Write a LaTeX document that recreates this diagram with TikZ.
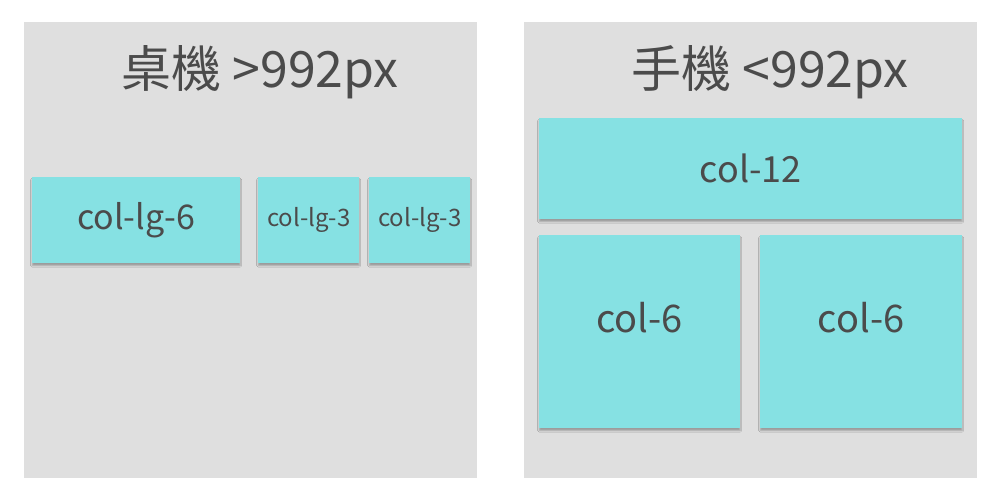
\documentclass[tikz,border=0pt]{standalone}
\usepackage{fontspec}
\setmainfont{Noto Sans CJK TC}
\usepackage{xcolor}
\usetikzlibrary{positioning, shadows.blur}
\definecolor{panelgray}{HTML}{DFDFDF}
\definecolor{colcyan}{HTML}{86E1E3}
\definecolor{txtgray}{HTML}{4B4B4B}
\tikzset{
  panel/.style={fill=panelgray, draw=none, anchor=north west, inner sep=0pt},
  colbox/.style={fill=colcyan, draw=none, anchor=north west, inner sep=0pt, text=txtgray,
    blur shadow={shadow blur steps=5, shadow xshift=0pt, shadow yshift=-2.5pt, shadow opacity=30, shadow blur radius=1.5pt}},
  title/.style={text=txtgray, inner sep=0pt, font=\fontsize{50}{56}\selectfont}
}
\begin{document}
\begin{tikzpicture}[x=1pt,y=-1pt]
      \def\pw{453}
      \def\ph{456}

      \useasboundingbox[fill=white] (0,0) rectangle (1000,500);

      % two screens
      \node[panel, minimum width=\pw, minimum height=\ph] (desk) at (24,22) {};
      \node[panel, minimum width=\pw, minimum height=\ph] (phone) at (524,22) {};

      \node[title] (desktitle) at (260,72) {桌機 >992px};
      \node[title] (phonetitle) at (770,72) {手機 <992px};

      % desktop row
      \node[colbox, minimum width=208, minimum height=86, font=\fontsize{34}{40}\selectfont] (lgsix) at (32,177) {col-lg-6};
      \node[colbox, minimum width=101, minimum height=86, font=\fontsize{24}{28}\selectfont] (lgthreea) at (258,177) {col-lg-3};
      \node[colbox, minimum width=101, minimum height=86, font=\fontsize{24}{28}\selectfont] (lgthreeb) at (369,177) {col-lg-3};

      % phone rows
      \node[colbox, minimum width=423, minimum height=101, font=\fontsize{36}{42}\selectfont] (twelve) at (539,118) {col-12};
      \node[colbox, minimum width=201, minimum height=193, font=\fontsize{38}{44}\selectfont] (sixa) at (539,235) {\raisebox{28pt}{col-6}};
      \node[colbox, minimum width=202, minimum height=193, font=\fontsize{38}{44}\selectfont] (sixb) at (760,235) {\raisebox{28pt}{col-6}};
\end{tikzpicture}
\end{document}
